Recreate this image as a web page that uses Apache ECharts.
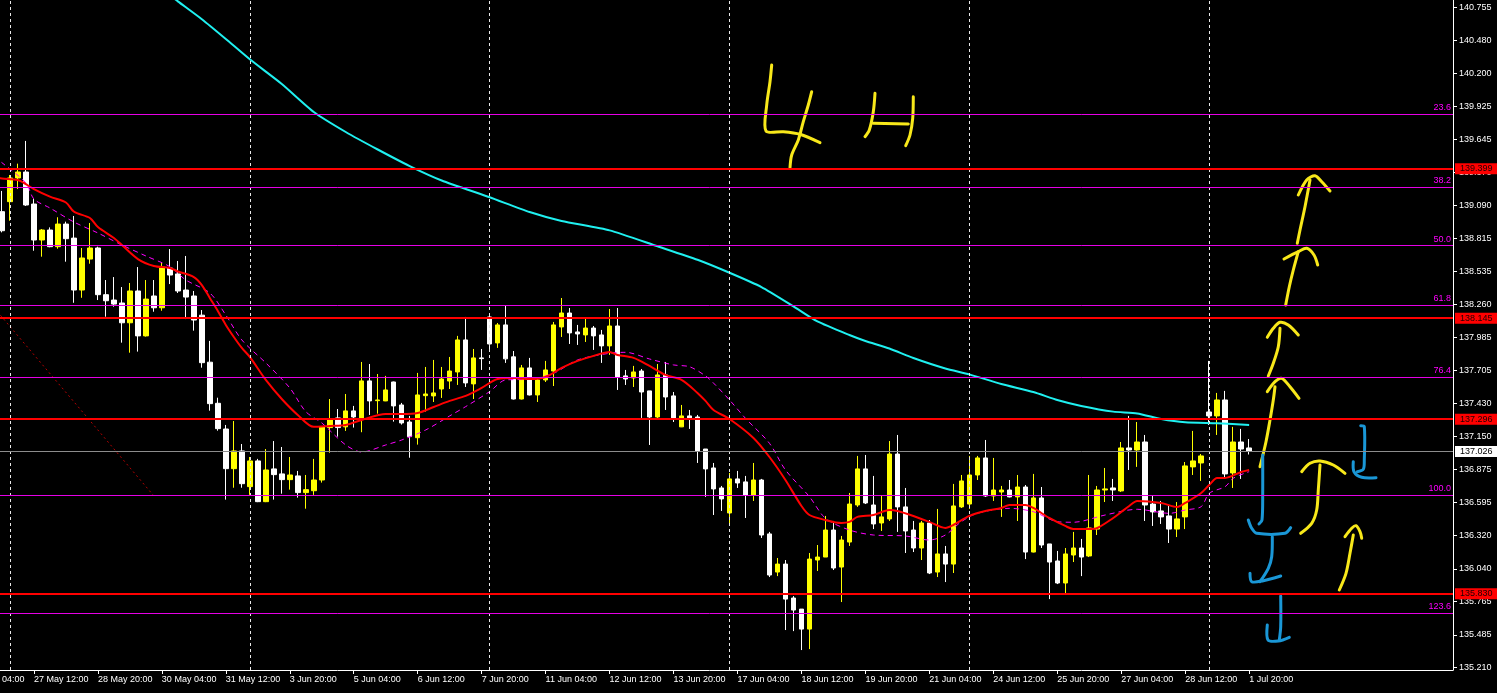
<!DOCTYPE html>
<html>
<head>
<meta charset="utf-8">
<script src="https://cdn.jsdelivr.net/npm/echarts@6/dist/echarts.min.js"></script>
<style>
html,body{margin:0;padding:0;background:#000;overflow:hidden;width:1497px;height:693px;}
#chart{position:absolute;left:-34px;top:0;width:1531px;height:693px;}
</style>
</head>
<body>
<div id="chart"></div>
<script>
// ---- data (4H candles, k = 0 .. 156) ----
const opens = [139.039,139.123,139.322,139.372,139.103,138.801,138.885,138.745,138.935,138.817,138.381,138.641,138.734,138.342,138.297,138.272,138.106,138.373,137.996,138.331,138.232,138.566,138.516,138.381,138.331,138.170,137.775,137.430,137.214,136.881,137.030,136.730,136.946,136.604,136.879,136.837,136.789,136.820,136.680,136.696,136.786,137.226,137.307,137.232,137.366,137.307,137.618,137.452,137.450,137.609,137.416,137.273,137.141,137.494,137.492,137.550,137.617,137.693,137.962,137.593,137.811,138.155,137.937,138.088,137.820,137.466,137.727,137.500,137.626,137.701,138.071,138.188,138.029,138.004,138.062,138.004,137.912,138.079,137.660,137.643,137.701,137.534,137.315,137.668,137.492,137.232,137.324,137.315,137.046,136.887,136.719,136.509,136.795,136.770,136.660,136.786,136.333,136.013,136.080,135.795,135.702,135.534,136.114,136.139,136.366,136.055,136.265,136.576,136.879,136.576,136.425,136.459,137.004,136.560,136.366,136.215,136.425,136.013,136.165,136.080,136.560,136.584,136.828,136.971,136.652,136.685,136.702,136.644,136.727,136.181,136.635,136.249,136.106,135.921,136.156,136.215,136.148,136.374,136.702,136.719,136.694,137.055,137.038,137.105,136.584,136.526,136.484,136.374,136.476,136.896,136.929,137.357,137.324,137.458,136.845,137.105,137.055];
const closes = [138.879,139.322,139.372,139.095,138.801,138.885,138.745,138.935,138.812,138.381,138.650,138.734,138.342,138.291,138.263,138.106,138.373,137.996,138.305,138.232,138.574,138.507,138.373,138.322,138.129,137.771,137.427,137.217,136.881,137.030,136.755,136.946,136.604,136.870,136.831,136.789,136.828,136.680,136.705,136.786,137.234,137.298,137.226,137.366,137.315,137.618,137.450,137.458,137.542,137.408,137.265,137.150,137.500,137.508,137.517,137.634,137.701,137.962,137.601,137.811,137.805,137.928,138.088,137.803,137.466,137.727,137.500,137.626,137.710,138.088,138.188,138.021,138.012,138.062,137.996,137.912,138.079,137.651,137.634,137.693,137.525,137.315,137.668,137.483,137.307,137.324,137.307,137.030,136.879,136.711,136.627,136.795,136.761,136.660,136.786,136.324,135.988,136.080,135.786,135.694,135.534,136.122,136.139,136.366,136.047,136.282,136.584,136.879,136.593,136.417,136.476,137.004,136.560,136.358,136.215,136.425,136.005,136.165,136.080,136.568,136.778,136.828,136.971,136.652,136.702,136.702,136.644,136.727,136.181,136.635,136.240,136.097,135.921,136.165,136.215,136.139,136.383,136.702,136.711,136.702,137.055,137.038,137.105,136.576,136.518,136.476,136.374,136.459,136.904,136.946,136.988,137.324,137.458,136.837,137.105,137.046,137.026];
const lows = [138.865,138.963,139.229,139.087,138.711,138.661,138.740,138.728,138.619,138.274,138.316,138.602,138.297,138.157,138.241,137.939,137.855,137.864,137.990,138.199,138.207,138.431,138.356,138.137,138.040,137.729,137.368,137.200,136.621,136.721,136.721,136.661,136.600,136.600,136.621,136.671,136.705,136.638,136.545,136.661,136.764,137.015,137.150,137.198,137.226,137.187,137.332,137.343,137.448,137.276,137.251,136.973,137.083,137.360,137.441,137.475,137.550,137.584,137.567,137.466,137.710,137.861,137.895,137.769,137.462,137.462,137.496,137.441,137.609,137.575,137.987,137.928,137.920,137.945,137.878,137.769,137.836,137.542,137.584,137.567,137.307,137.080,137.307,137.374,137.273,137.230,137.215,136.929,136.644,136.492,136.526,136.408,136.719,136.467,136.610,136.299,135.971,135.979,135.526,135.517,135.358,135.366,136.022,136.139,136.030,135.761,136.232,136.560,136.584,136.374,136.358,136.442,136.350,136.173,136.181,136.114,135.996,135.971,135.929,136.005,136.551,136.543,136.786,136.644,136.610,136.476,136.640,136.442,136.122,136.178,136.215,135.786,135.912,135.828,136.097,135.979,136.139,136.324,136.601,136.610,136.685,136.870,136.896,136.442,136.400,136.417,136.257,136.307,136.374,136.828,136.778,137.248,137.164,136.803,136.719,136.795,137.000];
const highs = [139.213,139.347,139.442,139.633,139.145,138.893,138.907,138.992,138.955,139.003,138.734,138.944,138.745,138.465,138.490,138.406,138.440,138.574,138.465,138.465,138.616,138.725,138.625,138.667,138.373,138.213,137.954,137.477,137.248,137.281,137.088,136.979,136.963,137.046,137.113,137.063,136.979,136.862,136.828,136.963,137.236,137.466,137.382,137.508,137.408,137.777,137.760,137.676,137.660,137.612,137.433,137.324,137.685,137.735,137.794,137.735,137.819,137.996,138.155,137.886,137.886,138.188,138.104,138.247,137.869,137.752,137.811,137.643,137.786,138.113,138.314,138.230,138.088,138.138,138.079,138.046,138.222,138.230,137.710,137.744,137.718,137.534,137.760,137.777,137.525,137.416,137.374,137.332,137.046,136.929,136.736,136.845,136.862,136.820,136.929,136.795,136.350,136.131,136.114,135.811,135.702,136.173,136.240,136.484,136.442,136.316,136.677,136.988,136.996,136.820,136.652,137.113,137.164,136.719,136.442,136.442,136.450,136.543,136.232,136.753,136.828,136.988,136.988,137.122,136.971,136.736,136.786,136.828,136.744,136.837,136.727,136.249,136.190,136.215,136.350,136.291,136.828,136.736,136.887,136.795,137.105,137.324,137.273,137.164,136.652,136.610,136.568,136.601,136.937,137.198,137.004,137.786,137.517,137.534,137.232,137.215,137.130];

// moving averages: [candle k, price]
const maRed = [[-1,139.330],[0,139.317],[2,139.305],[4,139.229],[6,139.165],[8,139.116],[9,139.039],[11,138.986],[12,138.910],[14,138.818],[15,138.759],[17,138.641],[19,138.583],[21,138.566],[22,138.537],[24,138.490],[25,138.423],[26,138.314],[27,138.205],[28,138.088],[29,137.987],[30,137.895],[31,137.819],[33,137.626],[35,137.466],[37,137.332],[39,137.232],[41,137.240],[43,137.248],[45,137.290],[48,137.341],[50,137.341],[52,137.349],[54,137.399],[56,137.450],[58,137.492],[60,137.559],[62,137.634],[64,137.643],[66,137.634],[68,137.651],[70,137.727],[72,137.786],[74,137.828],[76,137.861],[77,137.836],[79,137.811],[81,137.744],[83,137.668],[85,137.626],[87,137.517],[88,137.450],[89,137.374],[91,137.298],[94,137.139],[96,136.979],[98,136.786],[100,136.568],[101,136.492],[103,136.450],[105,136.425],[106,136.434],[107,136.476],[109,136.492],[111,136.534],[112,136.526],[114,136.484],[116,136.434],[118,136.383],[119,136.408],[121,136.484],[123,136.526],[125,136.551],[126,136.576],[128,136.576],[129,136.551],[131,136.467],[133,136.400],[134,136.375],[136,136.375],[137,136.383],[139,136.467],[140,136.517],[141,136.568],[142,136.610],[145,136.593],[147,136.559],[148,136.593],[150,136.677],[151,136.744],[152,136.803],[153,136.803],[155,136.853],[156,136.870]];
const maMagenta = [[-1,139.498],[0,139.450],[3,139.280],[4,139.145],[6,139.070],[9,138.952],[12,138.860],[15,138.759],[18,138.667],[21,138.577],[23,138.465],[26,138.356],[28,138.171],[30,137.962],[33,137.769],[36,137.559],[38,137.360],[40,137.265],[43,137.080],[45,137.021],[48,137.080],[50,137.122],[53,137.206],[56,137.324],[58,137.402],[61,137.528],[63,137.626],[66,137.632],[69,137.682],[72,137.794],[76,137.850],[78,137.858],[81,137.802],[84,137.752],[86,137.737],[88,137.660],[89,137.600],[91,137.458],[93,137.304],[96,137.094],[98,136.870],[101,136.646],[103,136.465],[106,136.366],[109,136.324],[113,136.316],[116,136.282],[118,136.324],[120,136.436],[122,136.506],[126,136.548],[129,136.520],[132,136.436],[134,136.431],[138,136.492],[142,136.540],[146,136.506],[148,136.534],[150,136.562],[151,136.674],[153,136.730],[154,136.800],[156,136.856]];
const maCyan = [[20,140.906],[21,140.857],[22,140.805],[25,140.655],[28,140.489],[31,140.318],[35,140.111],[39,139.876],[43,139.708],[47,139.561],[51,139.422],[55,139.301],[61,139.160],[66,139.036],[70,138.961],[76,138.882],[82,138.748],[87,138.635],[91,138.526],[95,138.406],[99,138.244],[102,138.117],[106,138.003],[108,137.953],[111,137.890],[114,137.810],[118,137.722],[121,137.673],[125,137.592],[129,137.525],[132,137.458],[135,137.408],[139,137.360],[142,137.345],[145,137.298],[148,137.270],[152,137.262],[156,137.248]];

// horizontal levels
const levelPrices = [139.399, 138.145, 137.296, 135.830];
const fibLabels = ['23.6','38.2','50.0','61.8','76.4','100.0','123.6'];
const fibPrices = [139.859, 139.244, 138.753, 138.256, 137.648, 136.658, 135.670];
const bidPrice = 137.026;
const fibTrend = [[-1,138.233],[19,136.652]];
const weekStarts = [1, 31, 61, 91, 121, 151];

// axis ticks
const yTicks = [140.755,140.480,140.200,139.925,139.645,139.370,139.090,138.815,138.535,138.260,137.985,137.705,137.430,137.150,136.875,136.595,136.320,136.040,135.765,135.485,135.210];
const xTickLabels = ['24 May 04:00','27 May 12:00','28 May 20:00','30 May 04:00','31 May 12:00','3 Jun 20:00','5 Jun 04:00','6 Jun 12:00','7 Jun 20:00','11 Jun 04:00','12 Jun 12:00','13 Jun 20:00','17 Jun 04:00','18 Jun 12:00','19 Jun 20:00','21 Jun 04:00','24 Jun 12:00','25 Jun 20:00','27 Jun 04:00','28 Jun 12:00','1 Jul 20:00'];

// hand-drawn annotations (screen strokes)
const yellowStrokes = [
 [[771.7,65],[770,81.7],[766.7,105],[766,131],[783.3,131.7],[800,134.3],[820,142.7]],
 [[811.7,91.7],[808.3,105],[803.3,121.7],[798.3,140],[791.7,155],[790,167.7]],
 [[875,93.3],[873.3,111.7],[869.3,130],[865,136.7]],
 [[873.3,123.3],[908.3,124]],
 [[913.3,96.7],[912.7,118.3],[910,135],[905.7,145.7]],
 [[1298.3,195],[1306.7,180],[1315,175.7],[1321.7,181.7],[1330,191]],
 [[1310,180],[1305,206.7],[1300,230],[1297.3,243.3]],
 [[1284,259],[1298.3,251.7],[1306.7,248.3],[1314,255],[1317.7,265]],
 [[1298.3,251.7],[1293.3,270],[1289.3,286.7],[1285.7,305]],
 [[1267.3,337.3],[1273.3,328.3],[1280,322.3],[1288.3,325],[1298.3,335]],
 [[1280,328.3],[1278.3,346.7],[1273.3,363.3],[1268.3,376]],
 [[1267.3,391.7],[1275,381.7],[1281.7,378.3],[1290,386.7],[1299,398.3]],
 [[1275,386.7],[1273.3,400],[1270,420],[1266,441.7],[1260,466.7]],
 [[1301.7,471.7],[1310,463.3],[1320,461],[1333.3,465],[1345,473.3]],
 [[1320,465],[1318.3,490],[1316.7,510],[1311.7,523.3],[1300.7,533.3]],
 [[1345,536.7],[1351.7,528.3],[1356,525.7],[1360,531.7],[1361.7,538.3]],
 [[1353.3,535],[1350,553.3],[1346,573.3],[1339.3,590]]
];
const blueStrokes = [
 [[1262.7,455],[1262.7,493.3],[1262,520],[1259,524]],
 [[1248.3,520],[1251.7,528.3],[1256.7,533.3],[1285,533.3],[1290.7,527.7]],
 [[1272.3,536.7],[1271.7,556.7],[1268.3,568.3],[1260,581.7]],
 [[1250,573.3],[1251.7,581.7],[1263.3,580.7],[1280.7,576]],
 [[1360.7,425.7],[1364.3,426.7],[1364.3,460],[1363.3,469.3],[1357.3,471.7]],
 [[1353.3,461.7],[1354,471.7],[1361.7,477.3],[1376,477.7]],
 [[1280.7,596],[1280.7,626.7],[1279.3,640]],
 [[1267.3,625],[1268,640],[1278.3,641],[1289.3,637.3]]
];

// ---- build categories (4H bars, weekends skipped) ----
const LEAD = 4, NCAT = 186, OFFSET = 34;
const MONTHS = ['Jan','Feb','Mar','Apr','May','Jun','Jul','Aug','Sep','Oct','Nov','Dec'];
const categories = [];
let t = Date.UTC(2019, 4, 24, 4);
for (let i = 0; i < NCAT; i++) {
  const d = new Date(t);
  categories.push(d.getUTCDate() + ' ' + MONTHS[d.getUTCMonth()] + ' ' + String(d.getUTCHours()).padStart(2,'0') + ':00');
  t += 4 * 3600e3;
  let nd = new Date(t);
  while (nd.getUTCDay() === 6 || nd.getUTCDay() === 0) { t += 4 * 3600e3; nd = new Date(t); }
}
const candleData = categories.map((c, i) => {
  const k = i - LEAD;
  return (k >= 0 && k < opens.length) ? [opens[k], closes[k], lows[k], highs[k]] : '-';
});
const shift = arr => arr.map(p => [p[0] + LEAD, p[1]]);
const tickSet = new Set(xTickLabels);
const FONT = 'Liberation Sans';

const chart = echarts.init(document.getElementById('chart'), null, {renderer: 'canvas'});
const strokes = [];
yellowStrokes.forEach(pts => strokes.push({type:'polyline', shape:{points:pts, smooth:0.3}, style:{stroke:'#f8e81a', lineWidth:3, fill:null, lineCap:'round', lineJoin:'round'}}));
blueStrokes.forEach(pts => strokes.push({type:'polyline', shape:{points:pts, smooth:0.3}, style:{stroke:'#1a97d6', lineWidth:3, fill:null, lineCap:'round', lineJoin:'round'}}));

chart.setOption({
  animation: false,
  backgroundColor: '#000',
  grid: {left: 0, right: 44, top: 0, bottom: 23, containLabel: false},
  xAxis: {
    type: 'category', data: categories, boundaryGap: true,
    axisLine: {show: true, lineStyle: {color: '#ffffff', width: 1}},
    axisTick: {show: true, alignWithLabel: true, length: 4, lineStyle: {color: '#ffffff'}, interval: (i, v) => tickSet.has(v)},
    axisLabel: {show: true, interval: (i, v) => tickSet.has(v), align: 'left', margin: 5, color: '#ffffff', fontSize: 9, fontFamily: FONT},
    splitLine: {show: false}
  },
  yAxis: {
    type: 'value', position: 'right', min: 135.1905, max: 140.8163, scale: true,
    axisLine: {show: true, lineStyle: {color: '#ffffff', width: 1}},
    axisTick: {show: true, length: 4, lineStyle: {color: '#ffffff'}, customValues: yTicks},
    axisLabel: {show: true, customValues: yTicks, margin: 6, color: '#ffffff', fontSize: 9, fontFamily: FONT, formatter: v => v.toFixed(3)},
    splitLine: {show: false}
  },
  graphic: [{type: 'group', x: OFFSET, y: 0, z: 100, children: strokes}],
  series: [
    {
      type: 'line', name: 'separators', data: [], z: 1, silent: true,
      markLine: {
        symbol: ['none','none'], silent: true, animation: false,
        lineStyle: {color: '#e8e8e8', width: 1, type: [3,3]},
        label: {show: false},
        data: weekStarts.map(k => ({xAxis: k + LEAD}))
      }
    },
    {
      type: 'candlestick', name: 'price', data: candleData, z: 2, barWidth: 5,
      itemStyle: {color: '#ffff00', color0: '#ffffff', borderColor: '#ffff00', borderColor0: '#ffffff', borderWidth: 1}
    },
    {type: 'line', name: 'ma200', data: shift(maCyan), z: 3, symbol: 'none', connectNulls: true, smooth: 0.2, lineStyle: {color: '#1ff0f0', width: 2}},
    {type: 'line', name: 'maSlow', data: shift(maMagenta), z: 3, symbol: 'none', connectNulls: true, smooth: 0.3, lineStyle: {color: '#ff00ff', width: 1, type: [5,4]}},
    {type: 'line', name: 'maFast', data: shift(maRed), z: 3, symbol: 'none', connectNulls: true, smooth: 0.3, lineStyle: {color: '#ff0000', width: 2}},
    {type: 'line', name: 'fibTrend', data: shift(fibTrend), z: 3, symbol: 'none', lineStyle: {color: '#b40000', width: 1, type: [2,3]}},
    {
      type: 'line', name: 'levels', data: [], z: 4, silent: true,
      markLine: {
        symbol: ['none','none'], silent: true, animation: false, precision: 3,
        data: [
          ...fibPrices.map((p, i) => ({
            yAxis: p,
            lineStyle: {color: '#e600e6', width: 1, type: 'solid'},
            label: {show: true, position: 'insideEndTop', distance: 2, formatter: fibLabels[i], color: '#ff00ff', fontSize: 9, fontFamily: FONT}
          })),
          {
            yAxis: bidPrice,
            lineStyle: {color: '#8c8c8c', width: 1, type: 'solid'},
            label: {show: true, position: 'end', distance: 2, formatter: bidPrice.toFixed(3), color: '#000', backgroundColor: '#ffffff', padding: [1,5,1,5], fontSize: 9, fontFamily: FONT}
          },
          ...levelPrices.map(p => ({
            yAxis: p,
            lineStyle: {color: '#ff0000', width: 2, type: 'solid'},
            label: {show: true, position: 'end', distance: 2, formatter: p.toFixed(3), color: '#200000', backgroundColor: '#ff0000', padding: [1,5,1,5], fontSize: 9, fontFamily: FONT}
          }))
        ]
      }
    }
  ]
});
</script>
</body>
</html>
